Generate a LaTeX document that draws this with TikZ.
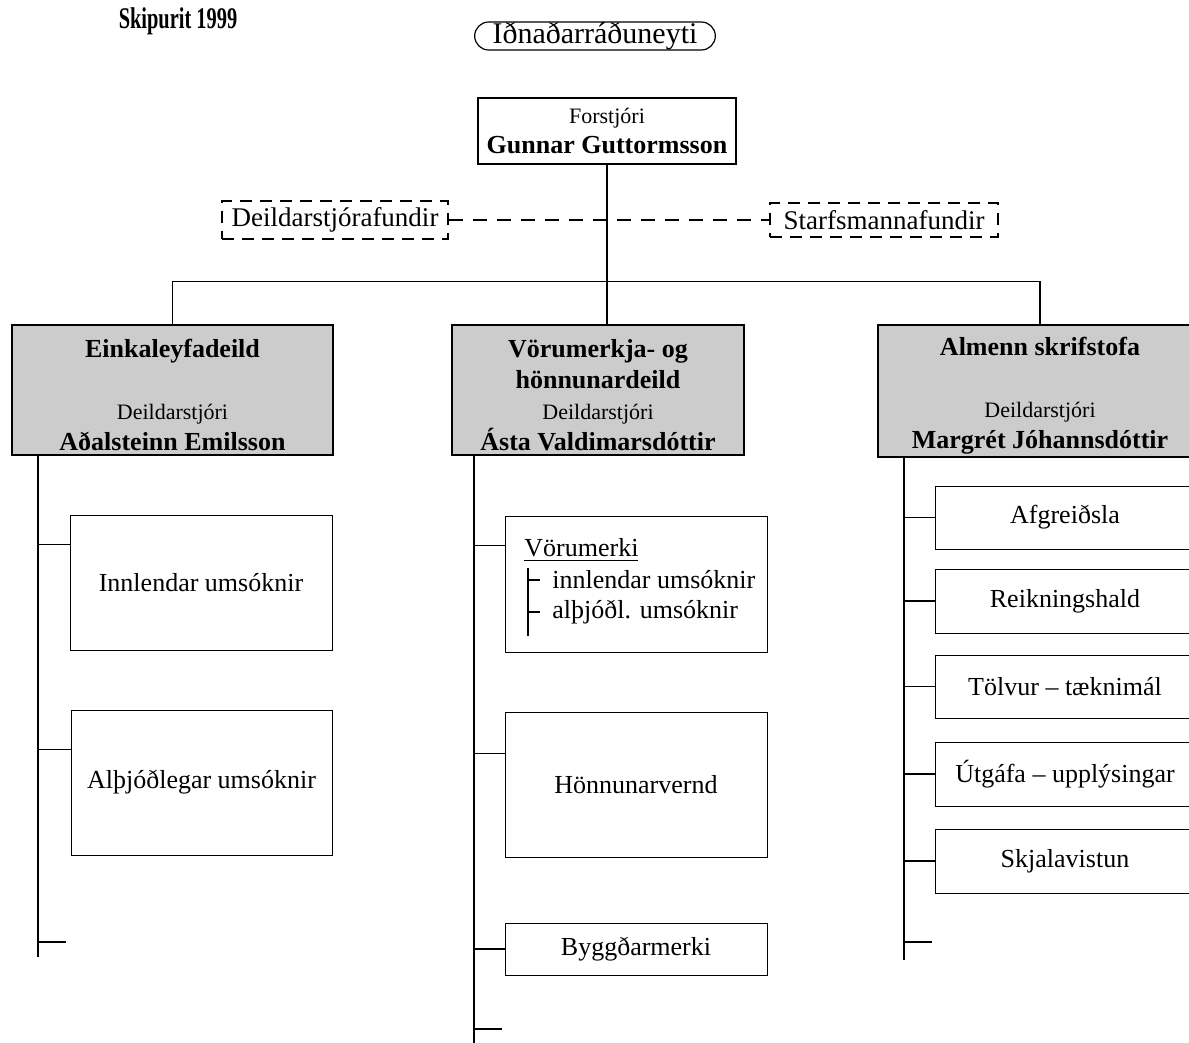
\documentclass[tikz,border=0pt]{standalone}
\usepackage{fontspec}
\setmainfont{Liberation Serif}
\usepackage{graphicx}
\usetikzlibrary{shapes.misc}

\begin{document}
\begin{tikzpicture}[x=0.5pt, y=-0.5pt,
    link/.style={draw=black, line width=0.6pt},
    topbox/.style={draw=black, line width=0.6pt, minimum width=129pt, minimum height=33pt, align=center, font=\fontsize{13}{15}\selectfont},
    meetbox/.style={draw=black, line width=0.6pt, dash pattern=on 6pt off 4pt, minimum height=17pt, font=\fontsize{13.5}{15}\selectfont},
    deptbox/.style={draw=black, line width=0.7pt, fill=black!20, minimum height=65pt, inner ysep=0pt, align=center, font=\fontsize{13}{15.5}\selectfont\bfseries},
    subbox/.style={draw=black, line width=0.5pt, font=\fontsize{13}{15}\selectfont},
    subtxt/.style={anchor=west, inner sep=0pt, font=\fontsize{13}{15}\selectfont}]
        \useasboundingbox (0,0) rectangle (1189,1043);
        \clip (0,0) rectangle (1189,1043);

        \node[font=\fontsize{15}{17}\selectfont\bfseries] (title) at (178,21) {\scalebox{0.68}[1]{Skipurit 1999}};
        \node[draw=black, line width=0.6pt, rounded rectangle, minimum width=127pt, minimum height=14pt, inner ysep=0pt, font=\fontsize{15}{16}\selectfont] (radun) at (595,36) {Iðnaðarráðuneyti};

        \node[topbox] (forst) at (607,131) {{\fontsize{11}{15}\selectfont Forstjóri}\\ \textbf{Gunnar Guttormsson}};
        \node[meetbox, minimum width=113pt] (dsf) at (335,220) {Deildarstjórafundir};
        \node[meetbox, minimum width=114pt] (smf) at (884,220) {Starfsmannafundir};

        \node[deptbox, minimum width=160.5pt] (deptL) at (172.5,390) {\rule{0pt}{14pt}Einkaleyfadeild\\ \strut\\ {\mdseries\fontsize{11}{15.5}\selectfont Deildarstjóri}\\ Aðalsteinn Emilsson};
        \node[deptbox, minimum width=146pt] (deptM) at (598,390) {\rule{0pt}{14pt}Vörumerkja- og\\ hönnunardeild\\ {\mdseries\fontsize{11}{15.5}\selectfont Deildarstjóri}\\ Ásta Valdimarsdóttir};
        \node[deptbox, minimum width=162pt, minimum height=66pt] (deptR) at (1040,391) {\rule{0pt}{14pt}Almenn skrifstofa\\ \strut\\ {\mdseries\fontsize{11}{15.5}\selectfont Deildarstjóri}\\ Margrét Jóhannsdóttir};

        %top lines
        \draw[link] (forst.south) -- (forst.south |- deptM.north);
        \draw[link] (deptL.north) -- ++(0,-43) -| (deptR.north);
        \draw[link, dash pattern=on 7pt off 5pt] (dsf.east) -- (smf.west);

        %left column
        \coordinate (spLtop) at (38,455);
        \coordinate (spLbot) at (38,957);
        \coordinate (endL) at (38,942);
        \node[subbox, minimum width=131pt, minimum height=67.5pt] (innl) at (201,582.5) {Innlendar umsóknir};
        \node[subbox, minimum width=130.5pt, minimum height=72.5pt] (alth) at (201.5,782.5) {Alþjóðlegar umsóknir};
        \draw[link] (spLtop) -- (spLbot);
        \draw[link] ([yshift=-15pt]innl.north west) -- ++(-32,0);
        \draw[link] ([yshift=-20pt]alth.north west) -- ++(-32,0);
        \draw[link] (endL) -- ++(28,0);

        %middle column
        \coordinate (spMtop) at (474,455);
        \coordinate (spMbot) at (474,1045);
        \coordinate (endM) at (474,1029);
        \node[subbox, minimum width=131pt, minimum height=68pt] (vm) at (636,584) {};
        \node[subbox, minimum width=131pt, minimum height=72.5pt] (hv) at (636,784.5) {Hönnunarvernd};
        \node[subbox, minimum width=131pt, minimum height=26pt] (bm) at (636,949) {Byggðarmerki};
        \draw[link] (spMtop) -- (spMbot);
        \draw[link] ([yshift=-15pt]vm.north west) -- ++(-31,0);
        \draw[link] ([yshift=-21pt]hv.north west) -- ++(-31,0);
        \draw[link] (bm.west) -- (bm.west -| spMtop);
        \draw[link] (endM) -- ++(28,0);

        %inside Vorumerki
        \node[subtxt] (vmhead) at (524,550) {\underline{Vörumerki}};
        \node[subtxt] (vmA) at (552,580) {innlendar umsóknir};
        \node[subtxt] (vmB) at (552,612) {alþjóðl. umsóknir};
        \coordinate (vmbarTop) at (528,568);
        \coordinate (vmbarBot) at (528,636);
        \draw[link] (vmbarTop) -- (vmbarBot);
        \draw[link] (vmA.west) ++(-12,0) -- (vmA.west -| vmbarTop);
        \draw[link] (vmB.west) ++(-12,0) -- (vmB.west -| vmbarTop);

        %right column
        \coordinate (spRtop) at (904,457);
        \coordinate (spRbot) at (904,960);
        \coordinate (endR) at (904,942);
        \node[subbox, minimum width=130pt, minimum height=31.5pt] (afg) at (1065,517.5) {Afgreiðsla};
        \node[subbox, minimum width=130pt, minimum height=32pt] (reik) at (1065,601) {Reikningshald};
        \node[subbox, minimum width=130pt, minimum height=31.5pt] (tolv) at (1065,686.5) {Tölvur -- tæknimál};
        \node[subbox, minimum width=130pt, minimum height=32pt] (utg) at (1065,774) {Útgáfa -- upplýsingar};
        \node[subbox, minimum width=130pt, minimum height=32pt] (skjal) at (1065,861) {Skjalavistun};
        \draw[link] (spRtop) -- (spRbot);
        \draw[link] (afg.west) -- (afg.west -| spRtop);
        \draw[link] (reik.west) -- (reik.west -| spRtop);
        \draw[link] (tolv.west) -- (tolv.west -| spRtop);
        \draw[link] (utg.west) -- (utg.west -| spRtop);
        \draw[link] (skjal.west) -- (skjal.west -| spRtop);
        \draw[link] (endR) -- ++(28,0);

\end{tikzpicture}
\end{document}
